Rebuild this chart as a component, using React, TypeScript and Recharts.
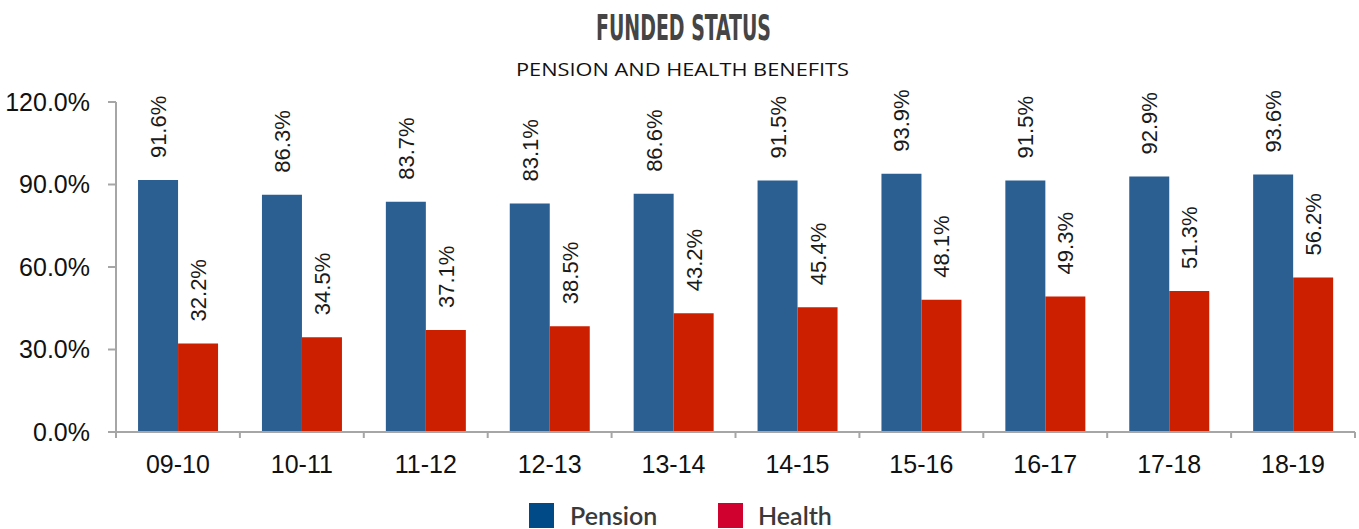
import React from "react";
import { BarChart, Bar, XAxis, YAxis, LabelList } from "recharts";

const years = ["09-10", "10-11", "11-12", "12-13", "13-14", "14-15", "15-16", "16-17", "17-18", "18-19"];
const pension = [91.6, 86.3, 83.7, 83.1, 86.6, 91.5, 93.9, 91.5, 92.9, 93.6];
const health = [32.2, 34.5, 37.1, 38.5, 43.2, 45.4, 48.1, 49.3, 51.3, 56.2];
const yTicks = [0, 30, 60, 90, 120];

const data = years.map((y, i) => ({ year: y, pension: pension[i], health: health[i] }));

const W = 1359;
const H = 529;
const LEFT = 116;
const RIGHT = 1355;
const BAND = (RIGHT - LEFT) / years.length;

const axisGray = "#a6a6a6";
const font = "'Liberation Sans', Arial, sans-serif";

const XTick = (props: any) => {
  const { x, y, payload, index } = props;
  const left = x - BAND / 2;
  return (
    <g>
      <line x1={left} y1={y - 8} x2={left} y2={y - 2} stroke={axisGray} strokeWidth={2} />
      {index === years.length - 1 && (
        <line x1={x + BAND / 2} y1={y - 8} x2={x + BAND / 2} y2={y - 2} stroke={axisGray} strokeWidth={2} />
      )}
      <text x={x} y={y + 33} textAnchor="middle" fontFamily={font} fontSize={25} fill="#111">
        {payload.value}
      </text>
    </g>
  );
};

const VLabel = (props: any) => {
  const { x, y, width, value } = props;
  const cx = x + width / 2 + 8;
  const cy = y - 22;
  return (
    <text
      x={cx}
      y={cy}
      transform={`rotate(-90 ${cx} ${cy})`}
      textAnchor="start"
      fontFamily={font}
      fontSize={22}
      fill="#1a1a1a"
    >
      {`${value.toFixed(1)}%`}
    </text>
  );
};

export default function App() {
  return (
    <div style={{ position: "absolute", left: 0, top: 0, width: W, height: H, background: "#fff" }}>
      <svg width={W} height={90} style={{ position: "absolute", left: 0, top: 0 }}>
        <text
          x={596}
          y={40}
          textLength={175}
          lengthAdjust="spacingAndGlyphs"
          fontFamily="'DejaVu Sans Condensed', 'DejaVu Sans', sans-serif"
          fontWeight="bold"
          fontSize={36}
          fill="#454545"
        >
          FUNDED STATUS
        </text>
        <text
          x={516}
          y={76}
          textLength={333}
          lengthAdjust="spacingAndGlyphs"
          fontFamily="'Open Sans', 'Noto Sans', sans-serif"
          fontSize={18}
          fill="#111"
        >
          PENSION AND HEALTH BENEFITS
        </text>
      </svg>
      <div style={{ position: "absolute", left: 0, top: 0 }}>
        <BarChart
          width={W}
          height={H}
          data={data}
          margin={{ top: 102, right: W - RIGHT, bottom: 97 - 50, left: 8 }}
          barCategoryGap="17.8%"
          barGap={0}
        >
          <YAxis
            domain={[0, 120]}
            ticks={yTicks}
            width={LEFT - 8}
            tickFormatter={(v: number) => `${v.toFixed(1)}%`}
            axisLine={{ stroke: axisGray, strokeWidth: 2 }}
            tickLine={{ stroke: axisGray, strokeWidth: 2 }}
            tickSize={8}
            tick={{ fontFamily: font, fontSize: 25, fill: "#111" }}
            tickMargin={18}
          />
          <XAxis
            dataKey="year"
            height={50}
            axisLine={{ stroke: axisGray, strokeWidth: 2 }}
            tickLine={false}
            tick={<XTick />}
            interval={0}
          />
          <Bar dataKey="pension" fill="#2b5e91" isAnimationActive={false}>
            <LabelList dataKey="pension" content={<VLabel />} />
          </Bar>
          <Bar dataKey="health" fill="#cc1f00" isAnimationActive={false}>
            <LabelList dataKey="health" content={<VLabel />} />
          </Bar>
        </BarChart>
      </div>
      <div
        style={{
          position: "absolute",
          top: 503,
          left: 529,
          display: "flex",
          alignItems: "center",
          fontFamily: "'Lato', 'Open Sans', sans-serif",
          fontSize: 25,
          lineHeight: "25px",
          fontWeight: 600,
          color: "#3a3a3a",
        }}
      >
        <span style={{ width: 25, height: 25, background: "#004b87", display: "inline-block" }} />
        <span style={{ marginLeft: 16, width: 148 }}>Pension</span>
        <span style={{ width: 25, height: 25, background: "#d0002f", display: "inline-block" }} />
        <span style={{ marginLeft: 15 }}>Health</span>
      </div>
    </div>
  );
}
